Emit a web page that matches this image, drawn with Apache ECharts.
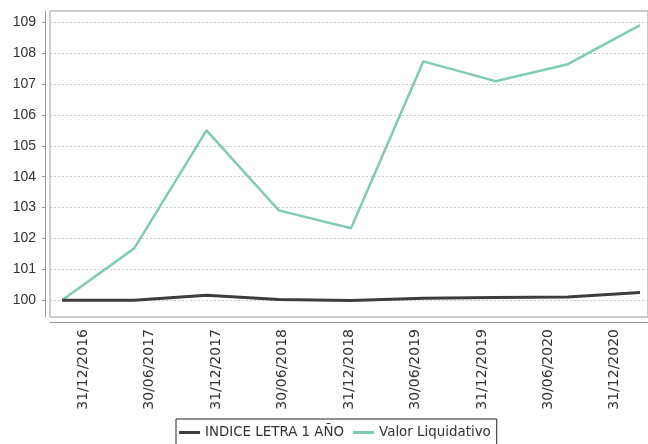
<!DOCTYPE html>
<html>
<head>
<meta charset="utf-8">
<script src="https://cdn.jsdelivr.net/npm/echarts@6/dist/echarts.min.js"></script>
<style>html,body{margin:0;padding:0;background:#fff}#c{width:648px;height:444px}</style>
</head>
<body>
<div id="c"></div>
<script>
var categories = ['31/12/2016','30/06/2017','31/12/2017','30/06/2018','31/12/2018','30/06/2019','31/12/2019','30/06/2020','31/12/2020'];
var indiceLetra = [100.0, 100.0, 100.16, 100.03, 99.99, 100.07, 100.09, 100.11, 100.25];
var valorLiquidativo = [100.0, 101.68, 105.5, 102.91, 102.33, 107.73, 107.09, 107.64, 108.9];
var yTicks = [100, 101, 102, 103, 104, 105, 106, 107, 108, 109];

function pairs(arr){ return arr.map(function(v,i){ return [i, v]; }); }

var chart = echarts.init(document.getElementById('c'));
chart.setOption({
  animation: false,
  backgroundColor: '#fff',
  grid: { left: 50, top: 11, right: -1, bottom: 127, show: true, borderColor: '#999', borderWidth: 1, backgroundColor: '#fff' },
  legend: {
    left: 176, top: 419,
    padding: [7, 6, 12, 3],
    itemGap: 9, itemWidth: 21, itemHeight: 3,
    icon: 'rect',
    backgroundColor: '#fff', borderColor: '#222', borderWidth: 1, borderRadius: 0,
    textStyle: { fontFamily: 'DejaVu Sans', fontSize: 13.4, color: '#333' },
    data: ['INDICE LETRA 1 AÑO', 'Valor Liquidativo']
  },
  xAxis: [
    { type: 'value', min: -0.166, max: 8.11, show: false },
    { type: 'category', data: categories, position: 'bottom', offset: 5, boundaryGap: true,
      axisLine: { onZero: false, lineStyle: { color: '#999', width: 1 } },
      axisTick: { alignWithLabel: true, length: 4, lineStyle: { color: '#999' } },
      axisLabel: { rotate: 90, margin: 7, fontFamily: 'DejaVu Sans', fontSize: 14, color: '#333', interval: 0 },
      splitLine: { show: false } }
  ],
  yAxis: {
    type: 'value', min: 99.46, max: 109.36, offset: 5,
    axisLine: { show: true, onZero: false, lineStyle: { color: '#999' } },
    axisTick: { show: true, length: 3, customValues: yTicks, lineStyle: { color: '#999' } },
    axisLabel: { customValues: yTicks, margin: 9, fontFamily: 'Liberation Sans', fontSize: 14, color: '#333' },
    splitLine: { show: true, lineStyle: { color: '#c8c8c8', type: [2, 2], width: 1 } }
  },
  series: [
    { name: 'INDICE LETRA 1 AÑO', type: 'line', xAxisIndex: 0, data: pairs(indiceLetra),
      showSymbol: false, symbol: 'none', lineStyle: { color: '#3d3d3d', width: 3 }, itemStyle: { color: '#3d3d3d' }, z: 3 },
    { name: 'Valor Liquidativo', type: 'line', xAxisIndex: 0, data: pairs(valorLiquidativo),
      showSymbol: false, symbol: 'none', lineStyle: { color: '#80cab7', width: 2.5 }, itemStyle: { color: '#80cab7' }, z: 2 }
  ]
});
</script>
</body>
</html>
